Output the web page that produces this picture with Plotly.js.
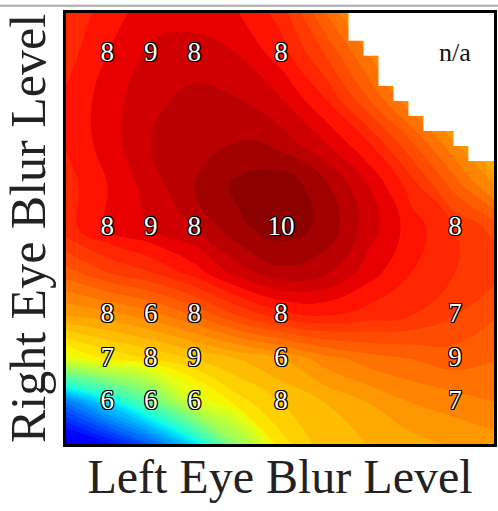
<!DOCTYPE html>
<html>
<head>
<meta charset="utf-8">
<script src="https://cdn.plot.ly/plotly-3.0.1.min.js"></script>
<style>html,body{margin:0;padding:0;background:#fff;}#chart{width:498px;height:511px;}</style>
</head>
<body>
<div id="chart"></div>
<script>
// ---- data ----
const xLevels = [1, 2, 3, 5, 9];          // left eye blur levels
const yLevels = [1, 2, 3, 5, 9];          // right eye blur levels
const scores = [                            // rows follow yLevels, columns xLevels
  [6, 6, 6, 8, 7],
  [7, 8, 9, 6, 9],
  [8, 6, 8, 8, 7],
  [8, 9, 8, 10, 8],
  [8, 9, 8, 8, null]
];
const naLabel = 'n/a';

// smoothed surface (normalised 0..1)
const fieldX = [0, 1, 2, 3, 4, 5, 6, 7, 8, 9, 10];
const fieldY = [0, 1, 2, 3, 4, 5, 6, 7, 8, 9, 10];
const fieldZ = [
  [0.07, 0.12, 0.20, 0.33, 0.52, 0.67, 0.71, 0.72, 0.73, 0.74, 0.75],
  [0.23, 0.34, 0.46, 0.61, 0.67, 0.70, 0.72, 0.74, 0.76, 0.77, 0.78],
  [0.62, 0.66, 0.68, 0.70, 0.72, 0.74, 0.77, 0.79, 0.80, 0.81, 0.80],
  [0.74, 0.75, 0.77, 0.80, 0.84, 0.87, 0.88, 0.87, 0.86, 0.84, 0.82],
  [0.81, 0.84, 0.86, 0.89, 0.93, 0.955, 0.945, 0.91, 0.88, 0.86, 0.84],
  [0.87, 0.90, 0.92, 0.94, 0.975, 0.99, 0.975, 0.93, 0.89, 0.86, 0.83],
  [0.87, 0.90, 0.93, 0.96, 0.985, 0.995, 0.965, 0.92, 0.87, 0.81, 0.75],
  [0.88, 0.91, 0.94, 0.955, 0.96, 0.95, 0.92, 0.88, 0.82, 0.76, 0.69],
  [0.88, 0.91, 0.935, 0.945, 0.94, 0.92, 0.88, 0.82, 0.76, 0.70, 0.64],
  [0.87, 0.90, 0.925, 0.93, 0.92, 0.89, 0.84, 0.78, 0.71, 0.65, 0.60],
  [0.86, 0.89, 0.91, 0.91, 0.90, 0.87, 0.80, 0.73, 0.67, 0.61, 0.56]
];

// missing-data region on the 29x29 sampling grid: first masked column per row
const maskCells = 29;
const maskRows     = [19, 20, 21, 22, 23, 24, 25, 26, 27, 28];
const maskStartCol = [27, 26, 24, 23, 22, 21, 21, 20, 19, 19];

// ---- build ----
const cellEdges = [];
for (let k = 0; k <= maskCells; k++) cellEdges.push(10 * k / maskCells);
const far = 10.5;
const polyX = [far], polyY = [far];
for (let r = maskRows.length - 1; r >= 0; r--) {
  const c = cellEdges[maskStartCol[r]];
  const top = maskRows[r] + 1 >= maskCells ? far : cellEdges[maskRows[r] + 1];
  polyX.push(c, c); polyY.push(top, cellEdges[maskRows[r]]);
}
polyX.push(far, far); polyY.push(cellEdges[maskRows[0]], far);

const tx = [], ty = [], tt = [], nx = [], ny = [];
yLevels.forEach((yv, j) => xLevels.forEach((xv, i) => {
  const s = scores[j][i];
  if (s === null) { nx.push(xv); ny.push(yv); }
  else { tx.push(xv); ty.push(yv); tt.push(String(s)); }
}));

// matplotlib-style jet
const jet = [
  [0, 'rgb(0,0,128)'], [0.11, 'rgb(0,0,255)'], [0.125, 'rgb(0,0,255)'],
  [0.34, 'rgb(0,219,255)'], [0.35, 'rgb(0,230,255)'], [0.375, 'rgb(21,255,226)'],
  [0.64, 'rgb(238,255,8)'], [0.65, 'rgb(247,245,0)'], [0.66, 'rgb(255,236,0)'],
  [0.89, 'rgb(255,19,0)'], [0.91, 'rgb(232,0,0)'], [1, 'rgb(128,0,0)']
];
const serif = 'Liberation Serif, DejaVu Serif, serif';
const outline = '1px 1px 0 #000, -1px -1px 0 #000, 1px -1px 0 #000, -1px 1px 0 #000, 0 1px 0 #000, 0 -1px 0 #000, 1px 0 0 #000, -1px 0 0 #000';

const data = [
  {
    type: 'contour', x: fieldX, y: fieldY, z: fieldZ,
    colorscale: jet, zmin: 0, zmax: 1, showscale: false,
    contours: {coloring: 'fill', start: 0, end: 1, size: 0.02, showlines: false},
    line: {width: 0, smoothing: 1.3}, hoverinfo: 'skip'
  },
  {
    type: 'scatter', mode: 'none', x: polyX, y: polyY, fill: 'toself',
    fillcolor: '#ffffff', hoverinfo: 'skip', showlegend: false
  },
  {
    type: 'scatter', mode: 'text', x: tx, y: ty, text: tt,
    textfont: {family: serif, size: 27, color: '#ffffff', shadow: outline},
    hoverinfo: 'skip', showlegend: false
  },
  {
    type: 'scatter', mode: 'text', x: nx, y: ny, text: nx.map(() => naLabel),
    textfont: {family: serif, size: 26, color: '#111111'},
    hoverinfo: 'skip', showlegend: false
  }
];

const axisBase = {
  showticklabels: false, ticks: '', showgrid: false, zeroline: false,
  showline: true, mirror: true, linecolor: '#000', linewidth: 3, fixedrange: true
};

const layout = {
  width: 498, height: 511,
  margin: {l: 66, r: 4, t: 13, b: 67},
  paper_bgcolor: '#fff', plot_bgcolor: '#fff',
  showlegend: false,
  xaxis: Object.assign({}, axisBase, {
    range: [0.05, 9.9],
    title: {text: 'Left Eye Blur Level', font: {family: serif, size: 48, color: '#222'}, standoff: 14}
  }),
  yaxis: Object.assign({}, axisBase, {
    range: [0.05, 9.95],
    title: {text: 'Right Eye Blur Level', font: {family: serif, size: 50, color: '#222'}, standoff: 14}
  }),
  shapes: [{
    type: 'line', xref: 'paper', yref: 'paper', x0: -0.2, x1: 1.02, y0: 1.017, y1: 1.017,
    line: {color: '#aaaaaa', width: 2}
  }]
};

Plotly.newPlot('chart', data, layout, {displayModeBar: false, staticPlot: true});
</script>
</body>
</html>
